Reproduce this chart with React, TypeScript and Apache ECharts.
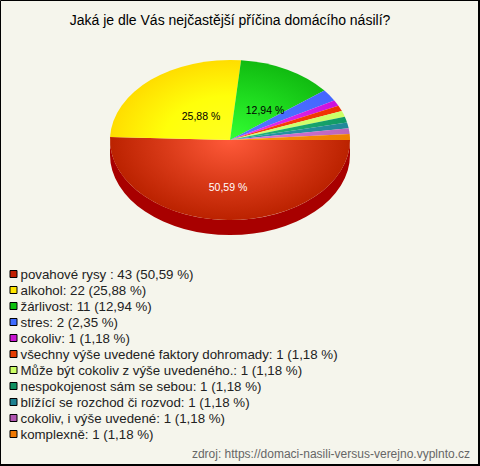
import React, { useEffect, useRef } from "react";
import * as echarts from "echarts";

const titleText = "Jaká je dle Vás nejčastější příčina domácího násilí?";
const sourceText = "zdroj: https://domaci-nasili-versus-verejno.vyplnto.cz";
const categories = [
  "povahové rysy ",
  "alkohol",
  "žárlivost",
  "stres",
  "cokoliv",
  "všechny výše uvedené faktory dohromady",
  "Může být cokoliv z výše uvedeného.",
  "nespokojenost sám se sebou",
  "blížící se rozchod či rozvod",
  "cokoliv, i výše uvedené",
  "komplexně",
];
const values = [43, 22, 11, 2, 1, 1, 1, 1, 1, 1, 1];
const percents = ["50,59", "25,88", "12,94", "2,35", "1,18", "1,18", "1,18", "1,18", "1,18", "1,18", "1,18"];
const legendColors = ["#c21f00", "#ffe600", "#0cc00c", "#3f6cff", "#c815d0", "#e63d00", "#ccff66", "#0e9060", "#1d8090", "#b055b0", "#ee7700"];
const centerColors = ["#ff5a3a", "#ffff22", "#33ff33", "#5577ff", "#ee33ee", "#ff4411", "#d4ff77", "#22bb77", "#2299aa", "#dd77dd", "#ff9911"];
const midColors = ["#d93a18", "#ffff0a", "#1fdc1f", "#4a6eff", "#dc22e6", "#f63a08", "#d0ff6e", "#1aa96e", "#2590a0", "#cc6ecc", "#f68808"];
const edgeColors = ["#bb2200", "#ffdd00", "#11bb11", "#4466ff", "#cc11dd", "#ee3300", "#ccff66", "#119966", "#228899", "#bb66bb", "#ee8000"];
const sideColor = "#a80000";

const CX = 230, CY = 140, RX = 120, RY = 80, DEPTH = 15;
const total = values.reduce((a, b) => a + b, 0);

export default function App() {
  const ref = useRef<HTMLDivElement>(null);
  useEffect(() => {
    document.body.style.margin = "0";
    const chart = echarts.init(ref.current!, null, { renderer: "svg" });
    let acc = 0;
    const series = categories.map((c, i) => {
      const start = (acc / total) * Math.PI * 2;
      acc += values[i];
      const end = (acc / total) * Math.PI * 2;
      return {
        type: "custom",
        name: `${c}: ${values[i]} (${percents[i]} %)`,
        coordinateSystem: "none",
        silent: true,
        itemStyle: { color: legendColors[i] },
        data: [values[i]],
        renderItem: () => {
          const children: any[] = [];
          if (i === 0) {
            children.push({
              type: "path",
              shape: {
                pathData: `M${CX + RX} ${CY}A${RX} ${RY} 0 0 1 ${CX - RX} ${CY}L${CX - RX} ${CY + DEPTH}A${RX} ${RY} 0 0 0 ${CX + RX} ${CY + DEPTH}Z`,
                x: CX - RX, y: CY, width: RX * 2, height: RY + DEPTH,
              },
              style: { fill: sideColor },
            });
          }
          children.push({
            type: "sector",
            x: CX,
            y: CY,
            scaleY: RY / RX,
            shape: { cx: 0, cy: 0, r: RX, r0: 0, startAngle: start, endAngle: end, clockwise: true },
            style: {
              fill: {
                type: "radial", x: 0, y: 0, r: RX, global: true,
                colorStops: [
                  { offset: 0, color: centerColors[i] },
                  { offset: 0.55, color: midColors[i] },
                  { offset: 1, color: edgeColors[i] },
                ],
              },
            },
          });
          return { type: "group", children };
        },
      };
    });
    chart.setOption({
      animation: false,
      backgroundColor: "#f5f5ec",
      title: [
        { text: titleText, left: 230, top: 13, padding: 0, textAlign: "center", textStyle: { fontFamily: "Liberation Sans", fontSize: 14, fontWeight: "normal", color: "#000" } },
        { text: sourceText, right: 10, top: 448, padding: 0, textStyle: { fontFamily: "Liberation Sans", fontSize: 12, fontWeight: "normal", color: "#666" } },
      ],
      legend: {
        orient: "vertical",
        left: 9.5,
        top: 266,
        padding: 0,
        itemWidth: 7,
        itemHeight: 7,
        itemGap: 0,
        icon: "rect",
        selectedMode: false,
        itemStyle: { borderColor: "#000", borderWidth: 1, borderJoin: "miter" },
        textStyle: { fontFamily: "Liberation Sans", fontSize: 13.3, color: "#222", lineHeight: 16, padding: [0, 0, 0, -1.5] },
        data: series.map((s) => s.name),
      },
      graphic: [
        { type: "polyline", shape: { points: [[0.5, 465], [0.5, 0.5], [479, 0.5]] }, style: { fill: "none", stroke: "#000", lineWidth: 1 }, z: 10 },
        { type: "polyline", shape: { points: [[0, 465], [479, 465], [479, 0]] }, style: { fill: "none", stroke: "#000", lineWidth: 2 }, z: 10 },
        { type: "text", x: 228, y: 187, style: { text: `${percents[0]} %`, fill: "#fff", font: "10.5px Liberation Sans", textAlign: "center", textVerticalAlign: "middle" }, z: 10 },
        { type: "text", x: 201, y: 116, style: { text: `${percents[1]} %`, fill: "#000", font: "10.5px Liberation Sans", textAlign: "center", textVerticalAlign: "middle" }, z: 10 },
        { type: "text", x: 265, y: 110, style: { text: `${percents[2]} %`, fill: "#000", font: "10.5px Liberation Sans", textAlign: "center", textVerticalAlign: "middle" }, z: 10 },
      ],
      series,
    });
    return () => chart.dispose();
  }, []);
  return <div ref={ref} style={{ width: 480, height: 466 }} />;
}
